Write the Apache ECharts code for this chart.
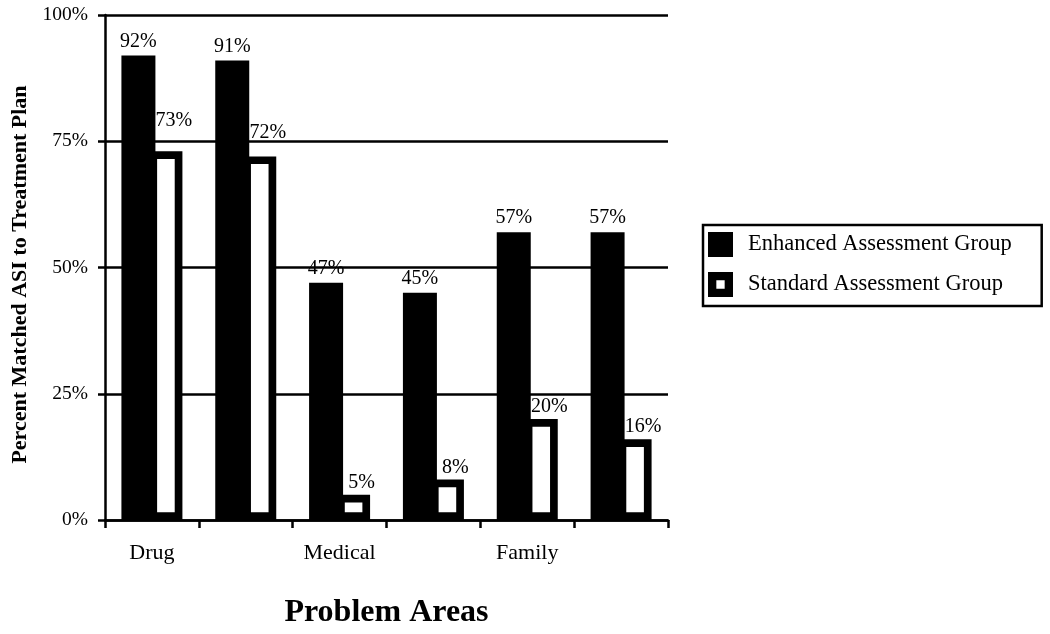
<!DOCTYPE html>
<html>
<head>
<meta charset="utf-8">
<script src="https://cdn.jsdelivr.net/npm/echarts@6/dist/echarts.min.js"></script>
<style>html,body{margin:0;padding:0;background:#fff}#c{width:1050px;height:634px}</style>
</head>
<body>
<div id="c"></div>
<script>
const categories = ['Drug', '', 'Medical', '', 'Family', ''];
const enhanced = [92, 91, 47, 45, 57, 57];
const standard = [73, 72, 5, 8, 20, 16];
const yTicks = [0, 25, 50, 75, 100];
const seriesNames = ['Enhanced Assessment Group', 'Standard Assessment Group'];

const FONT = '"Liberation Serif", "Times New Roman", serif';
const chart = echarts.init(document.getElementById('c'));
// extra upward shift for labels that were moved off gridlines in the original
const stdLabelLift = [-18.5, -11.5, 0, 0, 0, 0];

chart.setOption({
  animation: false,
  backgroundColor: '#fff',
  textStyle: { fontFamily: FONT, color: '#000' },
  grid: { left: 105, right: 382, top: 15, bottom: 112.3, containLabel: false },
  legend: {
    orient: 'vertical',
    left: 703, top: 225,
    padding: [7, 30, 9, 5],
    itemWidth: 25, itemHeight: 25, itemGap: 15,
    borderColor: '#000', borderWidth: 2.5, backgroundColor: '#fff',
    textStyle: { fontFamily: FONT, fontSize: 22.5, color: '#000', padding: [0, 0, 0, 10] },
    data: [
      { name: seriesNames[0], icon: 'rect', itemStyle: { color: '#000', borderWidth: 0 } },
      { name: seriesNames[1], icon: 'path://M0,0L21,0L21,21L0,21Z M7,7L7,14L14,14L14,7Z', itemStyle: { color: '#000', borderWidth: 0 } }
    ]
  },
  xAxis: {
    type: 'category',
    data: categories,
    name: 'Problem Areas',
    nameLocation: 'middle',
    nameGap: 77,
    nameTextStyle: { fontFamily: FONT, fontSize: 32, fontWeight: 'bold', color: '#000' },
    axisLine: { lineStyle: { color: '#000', width: 2.5 } },
    axisTick: { show: true, length: 8, lineStyle: { color: '#000', width: 2.5 } },
    axisLabel: { interval: 0, margin: 22, fontFamily: FONT, fontSize: 22, color: '#000' }
  },
  yAxis: {
    type: 'value',
    min: yTicks[0], max: yTicks[yTicks.length - 1], interval: 25,
    name: 'Percent Matched ASI to Treatment Plan',
    nameLocation: 'middle',
    nameGap: 74,
    nameTextStyle: { fontFamily: FONT, fontSize: 22, fontWeight: 'bold', color: '#000', padding: [0, 14, 0, 0] },
    axisLine: { show: true, lineStyle: { color: '#000', width: 2.5 } },
    axisTick: { show: true, length: 7, lineStyle: { color: '#000', width: 2.5 } },
    axisLabel: { formatter: '{value}%', margin: 17, fontFamily: FONT, fontSize: 19.5, color: '#000' },
    splitLine: { show: true, lineStyle: { color: '#000', width: 2.5 } }
  },
  series: [
    {
      name: seriesNames[0],
      type: 'bar',
      z: 3,
      data: enhanced,
      barWidth: 34,
      barGap: '-17.65%',
      itemStyle: { color: '#000' },
      label: { show: true, position: 'top', distance: 4, formatter: '{c}%', fontFamily: FONT, fontSize: 20, color: '#000' }
    },
    {
      name: seriesNames[1],
      type: 'bar',
      z: 2,
      barWidth: 33,
      data: standard.map((v, i) => ({
        value: v,
        label: { offset: [8, stdLabelLift[i]] }
      })),
      itemStyle: { color: '#fff', borderColor: '#000', borderWidth: 7.7 },
      label: { show: true, position: 'top', distance: 2, formatter: '{c}%', fontFamily: FONT, fontSize: 20, color: '#000' }
    }
  ]
});
</script>
</body>
</html>
